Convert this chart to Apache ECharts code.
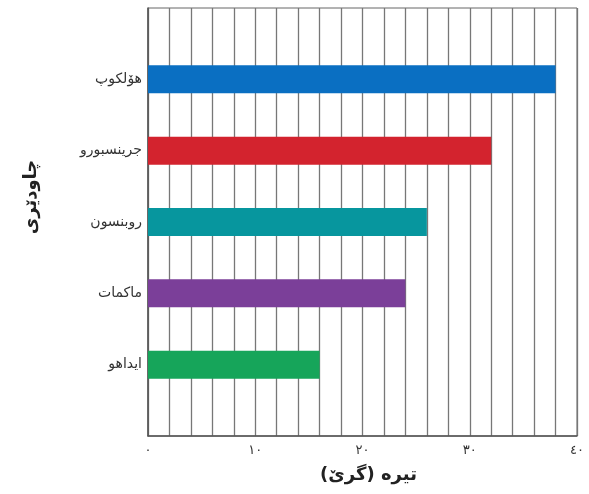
<!DOCTYPE html>
<html>
<head>
<meta charset="utf-8">
<script src="https://cdn.jsdelivr.net/npm/echarts@6/dist/echarts.min.js"></script>
<style>
html,body{margin:0;padding:0;background:#fff;}
#c{width:589px;height:494px;}
</style>
</head>
<body>
<div id="c"></div>
<script>
var categories = ['', 'هۆلکوپ', 'جرینسبورو', 'روبنسون', 'ماکمات', 'ایداهو', ''];
var values = [null, 38, 32, 26, 24, 16, null];
var barColors = ['#000', '#0a6fc2', '#d3232e', '#07969e', '#7b3f99', '#16a55a', '#000'];
var tickLabels = ['٠', '١٠', '٢٠', '٣٠', '٤٠'];
var xTitle = 'تیره (گرێ)';
var yTitle = 'چاودێری';

var chart = echarts.init(document.getElementById('c'));
var font = 'DejaVu Sans';
chart.setOption({
  animation: false,
  grid: {left: 148, right: 12, top: 8, bottom: 58, show: true, borderColor: '#666', borderWidth: 1, containLabel: false},
  xAxis: {
    type: 'value', min: 0, max: 40, interval: 2,
    axisLine: {show: true, lineStyle: {color: '#555', width: 1.5}},
    axisTick: {show: false},
    splitLine: {show: true, lineStyle: {color: '#777', width: 1.3}},
    axisLabel: {
      color: '#333', fontFamily: font, fontSize: 13, margin: 8,
      formatter: function (v) { return v % 10 === 0 ? tickLabels[v / 10] : ''; }
    },
    name: xTitle, nameLocation: 'middle', nameGap: 30,
    nameTextStyle: {fontFamily: font, fontSize: 18, fontWeight: 'bold', color: '#222', padding: [0, 0, 0, 12]}
  },
  yAxis: {
    type: 'category', data: categories, inverse: true, boundaryGap: false,
    axisLine: {show: true, lineStyle: {color: '#555', width: 1.5}},
    axisTick: {show: false},
    splitLine: {show: false},
    axisLabel: {color: '#333', fontFamily: font, fontSize: 14, margin: 6},
    name: yTitle, nameLocation: 'middle', nameGap: 108, nameRotate: 90,
    nameTextStyle: {fontFamily: font, fontSize: 18, fontWeight: 'bold', color: '#222', padding: [0, 0, 0, 50]}
  },
  series: [{
    type: 'bar', barWidth: 28,
    data: values.map(function (v, i) { return {value: v, itemStyle: {color: barColors[i]}}; })
  }]
});
</script>
</body>
</html>
